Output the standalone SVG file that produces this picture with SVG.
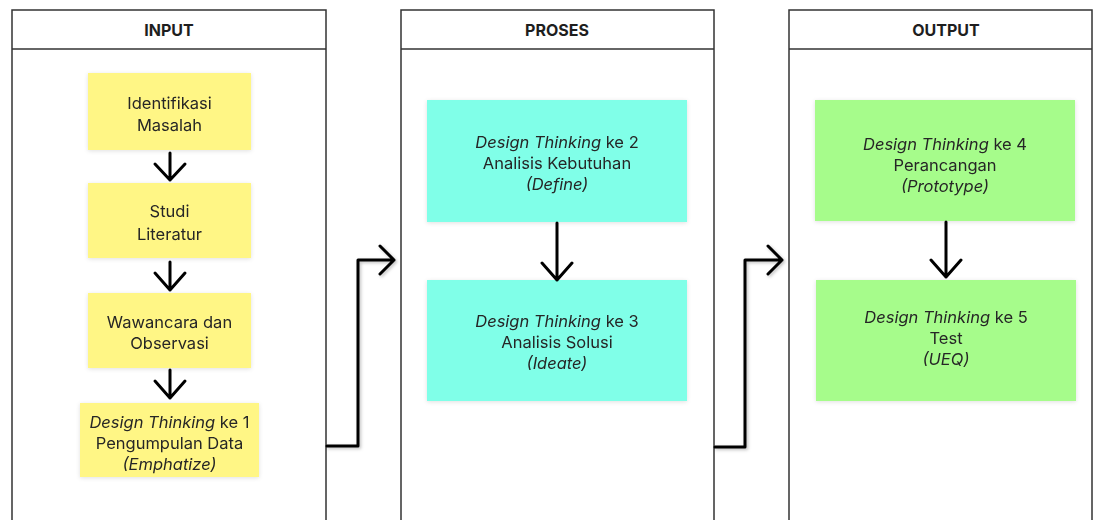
<svg xmlns="http://www.w3.org/2000/svg" width="1096" height="520" viewBox="0 0 1096 520">
<defs>
<filter id="sh" x="-10%" y="-10%" width="130%" height="130%">
<feDropShadow dx="1.5" dy="1.5" stdDeviation="1.5" flood-color="#000" flood-opacity="0.25"/>
</filter>
<filter id="bs" x="-10%" y="-10%" width="120%" height="130%">
<feDropShadow dx="0" dy="1" stdDeviation="2" flood-color="#000" flood-opacity="0.12"/>
</filter>
</defs>
<style>
.col{fill:#fff;stroke:#333;stroke-width:1.5}
.hl{stroke:#333;stroke-width:1.5}
.hd{font-family:Inter,"Liberation Sans",sans-serif;font-size:16px;font-weight:700;fill:#1e1e1e;text-anchor:middle}
.t{font-family:Inter,"Liberation Sans",sans-serif;font-size:16.5px;fill:#262626;text-anchor:middle}
.i{font-style:italic}
.y{fill:#fff685}
.c{fill:#80ffe8}
.g{fill:#a6fc8b}
.ar{fill:none;stroke:#000;stroke-width:3;stroke-linecap:round;stroke-linejoin:round}
</style>
<rect width="1096" height="520" fill="#fff"/>

<g id="col-input">
<rect class="col" x="12" y="10" width="314" height="520"/>
<line class="hl" x1="12" y1="49" x2="326" y2="49"/>
<text class="hd" x="169" y="36">INPUT</text>
</g>
<g id="col-proses">
<rect class="col" x="401" y="10" width="313" height="520"/>
<line class="hl" x1="401" y1="49" x2="714" y2="49"/>
<text class="hd" x="557" y="36">PROSES</text>
</g>
<g id="col-output">
<rect class="col" x="789" y="10" width="303" height="520"/>
<line class="hl" x1="789" y1="49" x2="1092" y2="49"/>
<text class="hd" x="946" y="36">OUTPUT</text>
</g>

<g id="n1" filter="url(#bs)">
<rect class="y" x="88" y="73" width="163" height="77"/>
<text class="t" x="169.5" y="109">Identifikasi</text>
<text class="t" x="169.5" y="131">Masalah</text>
</g>
<g id="n2" filter="url(#bs)">
<rect class="y" x="88" y="183" width="163" height="75"/>
<text class="t" x="169.5" y="217">Studi</text>
<text class="t" x="169.5" y="240">Literatur</text>
</g>
<g id="n3" filter="url(#bs)">
<rect class="y" x="88" y="293" width="163" height="75"/>
<text class="t" x="169.5" y="328">Wawancara dan</text>
<text class="t" x="169.5" y="349">Observasi</text>
</g>
<g id="n4" filter="url(#bs)">
<rect class="y" x="80" y="403" width="179" height="74"/>
<text class="t" x="169.5" y="428"><tspan class="i">Design Thinking</tspan> ke 1</text>
<text class="t" x="169.5" y="449">Pengumpulan Data</text>
<text class="t i" x="169.5" y="470">(Emphatize)</text>
</g>

<g id="n5" filter="url(#bs)">
<rect class="c" x="427" y="100" width="260" height="122"/>
<text class="t" x="557" y="148"><tspan class="i">Design Thinking</tspan> ke 2</text>
<text class="t" x="557" y="169">Analisis Kebutuhan</text>
<text class="t i" x="557" y="190">(Define)</text>
</g>
<g id="n6" filter="url(#bs)">
<rect class="c" x="427" y="280" width="260" height="121"/>
<text class="t" x="557" y="327"><tspan class="i">Design Thinking</tspan> ke 3</text>
<text class="t" x="557" y="348">Analisis Solusi</text>
<text class="t i" x="557" y="369">(Ideate)</text>
</g>

<g id="n7" filter="url(#bs)">
<rect class="g" x="815" y="100" width="260" height="121"/>
<text class="t" x="945" y="150"><tspan class="i">Design Thinking</tspan> ke 4</text>
<text class="t" x="945" y="171">Perancangan</text>
<text class="t i" x="945" y="192">(Prototype)</text>
</g>
<g id="n8" filter="url(#bs)">
<rect class="g" x="816" y="280" width="260" height="121"/>
<text class="t" x="946" y="323"><tspan class="i">Design Thinking</tspan> ke 5</text>
<text class="t" x="946" y="344">Test</text>
<text class="t i" x="946" y="365">(UEQ)</text>
</g>

<g id="connectors">
<path class="ar" d="M170 153 V180 M155 164 L170 180 L185 164"/>
<path class="ar" d="M170 262 V290 M155 273 L170 290 L185 273"/>
<path class="ar" d="M170 370 V398 M155 381 L170 398 L185 381"/>
<path class="ar" d="M557 223 V280 M542 263 L557 280 L572 263"/>
<path class="ar" d="M946 222 V277 M931 260 L946 277 L961 260"/>
<g filter="url(#sh)">
<path class="ar" d="M327 446 H358 V260 H394 M380 246 L394 260 L380 274"/>
<path class="ar" d="M715 447 H745 V260 H782 M768 246 L782 260 L768 274"/>
</g>
</g>
</svg>
